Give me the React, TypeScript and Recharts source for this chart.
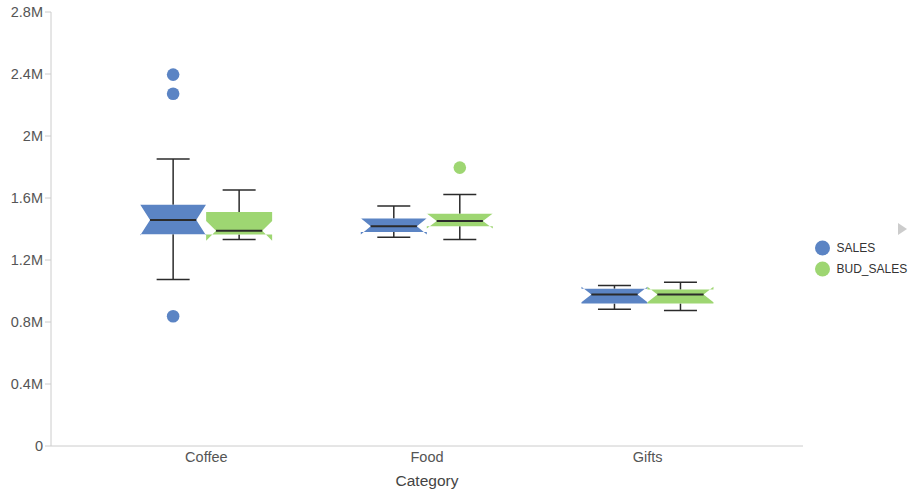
import React from 'react';
import { ComposedChart, Bar, XAxis, YAxis, Legend } from 'recharts';

const categories = ['Coffee', 'Food', 'Gifts'];
const yTicks = [0, 400000, 800000, 1200000, 1600000, 2000000, 2400000, 2800000];

// SALES box stats per category
const salesLow = [1074000, 1346000, 882000];
const salesQ1 = [1366000, 1381000, 919000];
const salesMedian = [1458000, 1417000, 977000];
const salesQ3 = [1557000, 1467000, 1015000];
const salesHigh = [1852000, 1548000, 1035000];
const salesNotch = [100000, 52000, 50000];
const salesOutliers = [[2396000, 2273000, 837000], [], []];

// BUD_SALES box stats per category
const budLow = [1332000, 1332000, 874000];
const budQ1 = [1365000, 1417000, 919000];
const budMedian = [1388000, 1452000, 977000];
const budQ3 = [1510000, 1499000, 1009000];
const budHigh = [1652000, 1622000, 1056000];
const budNotch = [64000, 48000, 50000];
const budOutliers = [[], [1796000], []];

const SALES_COLOR = '#5b84c4';
const BUD_COLOR = '#9ed672';
const WHISKER = '#2b2b2b';

interface BoxStats {
  low: number;
  q1: number;
  median: number;
  q3: number;
  high: number;
  notch: number;
  outliers: number[];
}

const data = categories.map((category, i) => ({
  category,
  sales: {
    low: salesLow[i], q1: salesQ1[i], median: salesMedian[i], q3: salesQ3[i],
    high: salesHigh[i], notch: salesNotch[i], outliers: salesOutliers[i],
  } as BoxStats,
  bud: {
    low: budLow[i], q1: budQ1[i], median: budMedian[i], q3: budQ3[i],
    high: budHigh[i], notch: budNotch[i], outliers: budOutliers[i],
  } as BoxStats,
}));

// full extent of a box incl. outliers -> drawn as a range bar
const extent = (b: BoxStats): [number, number] => [
  Math.min(b.low, b.q1 - b.notch, ...b.outliers),
  Math.max(b.high, b.median + b.notch, ...b.outliers),
];

const BoxShape = (props: any) => {
  const { x, y, width, height, payload, seriesKey, color } = props;
  const b: BoxStats = payload[seriesKey];
  const [lo, hi] = extent(b);
  const top = Math.min(y, y + height);
  const bot = Math.max(y, y + height);
  // bar rect comes from the y scale, which is linear, so interpolate inside it
  const py = (v: number) => bot - ((v - lo) / (hi - lo)) * (bot - top);

  const L = x;
  const R = x + width;
  const cx = x + width / 2;
  const d = width * 0.15;
  const cap = width / 4;

  const q1 = py(b.q1);
  const q3 = py(b.q3);
  const med = py(b.median);
  const nh = py(b.median + b.notch);
  const nl = py(b.median - b.notch);

  const pts = [
    [L, q3], [R, q3], [R, nh], [R - d, med], [R, nl], [R, q1],
    [L, q1], [L, nl], [L + d, med], [L, nh],
  ].map((p) => p.join(',')).join(' ');

  return (
    <g>
      <line x1={cx} x2={cx} y1={py(b.high)} y2={q3} stroke={WHISKER} strokeWidth={1.5} />
      <line x1={cx} x2={cx} y1={q1} y2={py(b.low)} stroke={WHISKER} strokeWidth={1.5} />
      <line x1={cx - cap} x2={cx + cap} y1={py(b.high)} y2={py(b.high)} stroke={WHISKER} strokeWidth={1.5} />
      <line x1={cx - cap} x2={cx + cap} y1={py(b.low)} y2={py(b.low)} stroke={WHISKER} strokeWidth={1.5} />
      <polygon points={pts} fill={color} />
      <line x1={L + d} x2={R - d} y1={med} y2={med} stroke={WHISKER} strokeWidth={2} />
      {b.outliers.map((o, i) => (
        <circle key={i} cx={cx} cy={py(o)} r={6.3} fill={color} />
      ))}
    </g>
  );
};

const LegendContent = () => (
  <svg width={106} height={64}>
    <polygon points="93,5 93,17 102,11" fill="#cccccc" />
    <circle cx={17.5} cy={30} r={7.5} fill={SALES_COLOR} />
    <text x={31.5} y={30} dy="0.35em" fontSize={12} fill="#333">SALES</text>
    <circle cx={17.5} cy={51} r={7.5} fill={BUD_COLOR} />
    <text x={31.5} y={51} dy="0.35em" fontSize={12} fill="#333">BUD_SALES</text>
  </svg>
);

const formatY = (v: number) => (v === 0 ? '0' : `${v / 1000000}M`);

export default function App() {
  return (
    <div style={{ position: 'absolute', left: 0, top: 0, fontFamily: '"Liberation Sans", Arial, sans-serif' }}>
      <ComposedChart
        width={911}
        height={491}
        data={data}
        margin={{ top: 12, right: 108, bottom: 0, left: 0 }}
        barCategoryGap="20%"
        barGap={0}
      >
        <XAxis
          dataKey="category"
          padding={{ left: 45, right: 45 }}
          height={45}
          tickLine={false}
          tickSize={4}
          tickMargin={2}
          axisLine={{ stroke: '#cccccc' }}
          tick={{ fill: '#555', fontSize: 14.5 }}
          label={{ value: 'Category', position: 'insideBottom', offset: 5, fill: '#444', fontSize: 15.5 }}
        />
        <YAxis
          width={51}
          domain={[0, 2800000]}
          ticks={yTicks}
          tickFormatter={formatY}
          axisLine={{ stroke: '#cccccc' }}
          tickLine={{ stroke: '#cccccc' }}
          tick={{ fill: '#555', fontSize: 14.5 }}
        />
        <Legend
          layout="vertical"
          align="center"
          verticalAlign="middle"
          wrapperStyle={{ left: 805, top: 218, width: 106 }}
          content={() => <LegendContent />}
        />
        <Bar
          name="SALES"
          dataKey={(d: any) => extent(d.sales)}
          fill={SALES_COLOR}
          isAnimationActive={false}
          shape={(p: any) => <BoxShape {...p} seriesKey="sales" color={SALES_COLOR} />}
        />
        <Bar
          name="BUD_SALES"
          dataKey={(d: any) => extent(d.bud)}
          fill={BUD_COLOR}
          isAnimationActive={false}
          shape={(p: any) => <BoxShape {...p} seriesKey="bud" color={BUD_COLOR} />}
        />
      </ComposedChart>
    </div>
  );
}
